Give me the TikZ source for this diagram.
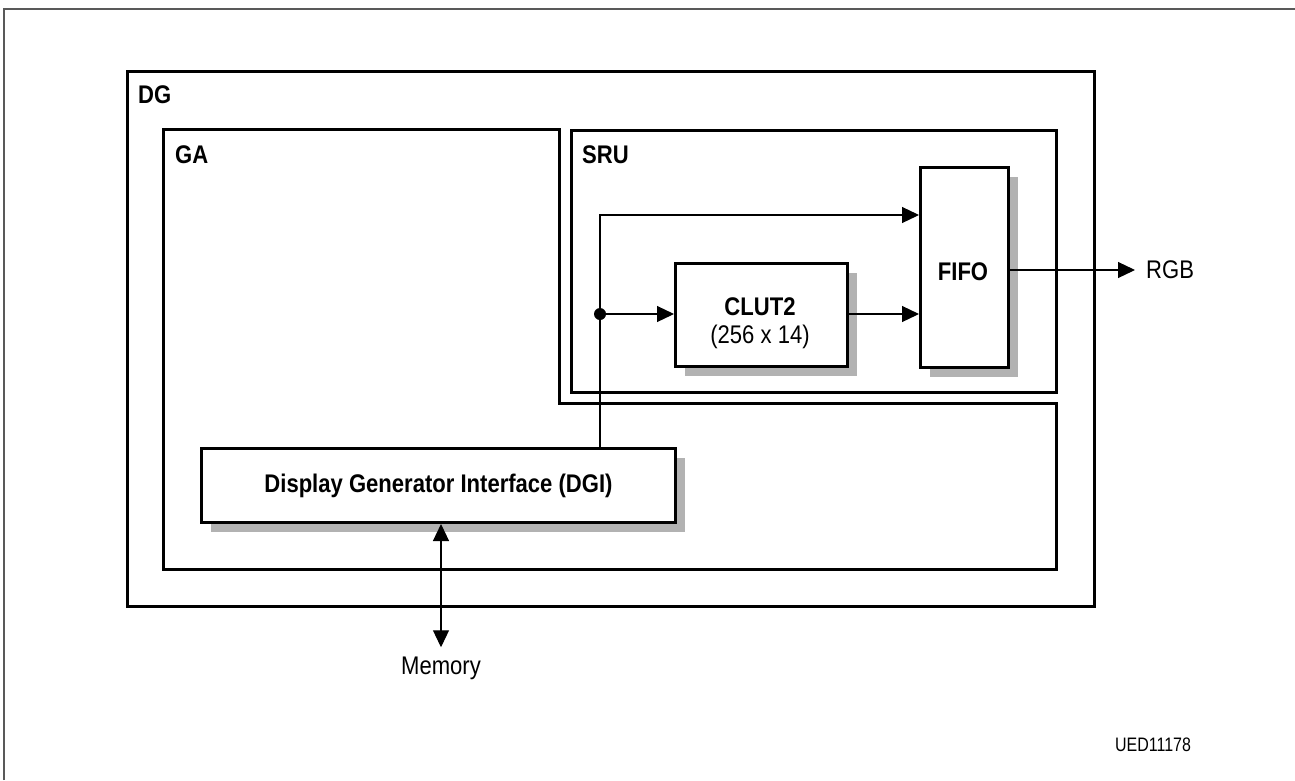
\documentclass[tikz,border=0pt]{standalone}
\usepackage{fontspec}
\setmainfont[FakeStretch=0.865]{Liberation Sans}
\newfontfamily\uedfont[FakeStretch=0.82]{Liberation Sans}
\usetikzlibrary{arrows.meta,shadows}
\begin{document}
\begin{tikzpicture}[x=1pt,y=-1pt,
  frame/.style={draw,line width=3pt,inner sep=0pt,anchor=north west},
  blk/.style={draw,line width=3pt,fill=white,inner sep=0pt,anchor=north west,
    drop shadow={shadow xshift=9pt,shadow yshift=-9pt,fill=black!30,opacity=1}},
  lbl/.style={font=\fontsize{25.5}{30}\selectfont\bfseries,inner sep=0pt},
  txt/.style={font=\fontsize{25.5}{30}\selectfont,inner sep=0pt},
  conn/.style={line width=1.2pt,-{Triangle[length=17pt,width=16pt]}},
  biconn/.style={line width=1.2pt,{Triangle[length=17pt,width=16pt]}-{Triangle[length=17pt,width=16pt]}}
]
\useasboundingbox (0,0) rectangle (1295,780);
% page frame
\draw[line width=1.6pt,black!65] (4,780) -- (4,9) -- (1295,9);

% DG
\node[frame,minimum width=967pt,minimum height=535pt] (dg) at (126,70) {};
\node[lbl,anchor=base west] (dglbl) at (138,103) {DG};

% GA
\draw[line width=3pt] (163,129) -- (559,129) -- (559,403) -- (1056,403) -- (1056,569) -- (163,569) -- cycle;
\node[lbl,anchor=base west] (galbl) at (175,163) {GA};

% SRU
\node[frame,minimum width=485pt,minimum height=262pt] (sru) at (570,129) {};
\node[lbl,anchor=base west] (srulbl) at (582,163) {SRU};

% FIFO
\node[blk,minimum width=88pt,minimum height=200pt] (fifo) at (919,166) {};
\node[lbl,anchor=base] (fifolbl) at (963,280) {FIFO};

% CLUT2
\node[blk,minimum width=172pt,minimum height=103pt] (clut) at (674,262) {};
\node[lbl,anchor=base] (clutlbl) at (760,315) {CLUT2};
\node[txt,anchor=base] (clutsize) at (760,343) {(256 x 14)};

% DGI
\node[blk,minimum width=474pt,minimum height=74pt,
      font=\fontsize{25.5}{30}\selectfont\bfseries] (dgi) at (200,447) {Display Generator Interface (DGI)};

% connectors
\coordinate (top) at (600,215);
\coordinate (tap) at (600,314);
\draw[conn] (dgi.north -| top) -- (top) -- (fifo.west |- top);
\fill (tap) circle (6pt);
\draw[conn] (tap) -- (clut.west |- tap);
\draw[conn] (clut.east |- tap) -- (fifo.west |- tap);

\node[txt,anchor=west] (rgb) at (1146,270) {RGB};
\draw[conn] (fifo.east |- rgb.west) -- ([xshift=-11pt]rgb.west);

\node[txt,anchor=base] (mem) at (441,674) {Memory};
\draw[biconn] (dgi.south -| mem) -- ([yshift=9pt]mem.north);

\node[font=\fontsize{19.5}{23}\uedfont,inner sep=0pt,anchor=base] (ued) at (1153,751) {UED11178};
\end{tikzpicture}
\end{document}
